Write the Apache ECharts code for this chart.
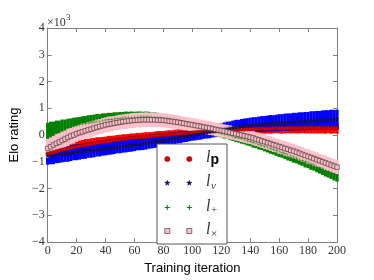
<!DOCTYPE html>
<html><head><meta charset="utf-8">
<script src="https://cdn.jsdelivr.net/npm/echarts@6/dist/echarts.min.js"></script>
<style>html,body{margin:0;padding:0;background:#fff}#c{width:374px;height:280px}</style>
</head><body><div id="c"></div>
<script>
// ---- data (Elo rating in units of 10^3) ----
const iterations = [
0,2,4,6,8,10,12,14,16,18,
20,22,24,26,28,30,32,34,36,38,
40,42,44,46,48,50,52,54,56,58,
60,62,64,66,68,70,72,74,76,78,
80,82,84,86,88,90,92,94,96,98,
100,102,104,106,108,110,112,114,116,118,
120,122,124,126,128,130,132,134,136,138,
140,142,144,146,148,150,152,154,156,158,
160,162,164,166,168,170,172,174,176,178,
180,182,184,186,188,190,192,194,196,198,
200];
const xTickValues = [0,20,40,60,80,100,120,140,160,180,200];
const yTickValues = [-4,-3,-2,-1,0,1,2,3,4];

const lpVals = [
-0.70,-0.67,-0.64,-0.61,-0.58,-0.55,-0.53,-0.50,-0.48,-0.45,
-0.43,-0.41,-0.39,-0.37,-0.35,-0.33,-0.31,-0.29,-0.27,-0.26,
-0.24,-0.22,-0.21,-0.19,-0.18,-0.16,-0.15,-0.14,-0.12,-0.11,
-0.10,-0.09,-0.08,-0.07,-0.06,-0.05,-0.04,-0.03,-0.02,-0.01,
0.00,0.01,0.02,0.03,0.04,0.05,0.06,0.07,0.07,0.08,
0.09,0.10,0.11,0.11,0.12,0.13,0.14,0.15,0.15,0.16,
0.17,0.18,0.18,0.19,0.19,0.20,0.20,0.21,0.21,0.22,
0.22,0.22,0.23,0.23,0.24,0.24,0.24,0.24,0.25,0.25,
0.25,0.25,0.25,0.26,0.26,0.26,0.26,0.26,0.26,0.26,
0.26,0.27,0.26,0.26,0.27,0.26,0.26,0.27,0.26,0.26,
0.26];
const lpErr = [
0.32,0.31,0.33,0.30,0.29,0.28,0.27,0.28,0.26,0.25,
0.24,0.23,0.24,0.22,0.21,0.21,0.20,0.21,0.19,0.19,
0.18,0.19,0.18,0.17,0.18,0.17,0.18,0.17,0.16,0.17,
0.16,0.17,0.16,0.16,0.17,0.16,0.15,0.16,0.17,0.16,
0.15,0.16,0.16,0.15,0.16,0.16,0.15,0.16,0.15,0.16,
0.16,0.15,0.16,0.16,0.17,0.16,0.17,0.16,0.17,0.16,
0.17,0.16,0.17,0.17,0.18,0.17,0.18,0.17,0.18,0.18,
0.17,0.18,0.19,0.18,0.18,0.19,0.18,0.19,0.19,0.18,
0.19,0.20,0.19,0.19,0.20,0.19,0.20,0.20,0.19,0.20,
0.20,0.21,0.20,0.20,0.21,0.20,0.21,0.20,0.21,0.20,
0.21];

const lvVals = [
-0.78,-0.77,-0.75,-0.74,-0.72,-0.71,-0.70,-0.68,-0.67,-0.65,
-0.64,-0.63,-0.61,-0.60,-0.58,-0.57,-0.56,-0.54,-0.53,-0.51,
-0.50,-0.49,-0.47,-0.46,-0.44,-0.43,-0.42,-0.40,-0.39,-0.37,
-0.36,-0.34,-0.33,-0.31,-0.30,-0.28,-0.26,-0.25,-0.23,-0.22,
-0.20,-0.18,-0.16,-0.14,-0.12,-0.10,-0.08,-0.06,-0.04,-0.02,
0.00,0.02,0.04,0.06,0.08,0.10,0.12,0.14,0.16,0.18,
0.20,0.22,0.24,0.26,0.28,0.30,0.31,0.33,0.34,0.36,
0.37,0.38,0.39,0.40,0.41,0.42,0.43,0.44,0.44,0.45,
0.46,0.47,0.48,0.48,0.49,0.50,0.51,0.51,0.52,0.52,
0.53,0.54,0.55,0.55,0.56,0.57,0.57,0.58,0.59,0.59,
0.60];
const lvErr = [
0.33,0.32,0.34,0.31,0.32,0.31,0.30,0.32,0.30,0.29,
0.30,0.29,0.28,0.29,0.27,0.28,0.27,0.26,0.27,0.26,
0.26,0.25,0.26,0.25,0.24,0.25,0.24,0.25,0.24,0.25,
0.24,0.23,0.24,0.25,0.24,0.23,0.24,0.23,0.24,0.23,
0.22,0.23,0.22,0.23,0.22,0.21,0.22,0.21,0.22,0.21,
0.21,0.22,0.22,0.23,0.22,0.23,0.24,0.23,0.24,0.25,
0.24,0.25,0.26,0.25,0.26,0.27,0.26,0.27,0.28,0.27,
0.28,0.29,0.28,0.29,0.30,0.29,0.30,0.31,0.30,0.31,
0.32,0.31,0.32,0.33,0.32,0.33,0.32,0.34,0.33,0.34,
0.33,0.35,0.34,0.35,0.34,0.35,0.36,0.35,0.36,0.35,
0.35];

const lplusVals = [
0.12,0.15,0.17,0.20,0.22,0.25,0.27,0.29,0.32,0.34,
0.36,0.38,0.40,0.43,0.45,0.47,0.49,0.51,0.52,0.54,
0.56,0.57,0.59,0.60,0.62,0.63,0.64,0.65,0.66,0.66,
0.67,0.67,0.68,0.68,0.68,0.68,0.67,0.66,0.65,0.64,
0.62,0.60,0.58,0.56,0.54,0.52,0.49,0.46,0.44,0.41,
0.38,0.35,0.32,0.28,0.25,0.22,0.19,0.16,0.13,0.10,
0.07,0.04,0.01,-0.02,-0.05,-0.08,-0.11,-0.14,-0.18,-0.21,
-0.24,-0.28,-0.31,-0.35,-0.38,-0.42,-0.46,-0.50,-0.54,-0.58,
-0.62,-0.66,-0.70,-0.74,-0.78,-0.82,-0.86,-0.90,-0.94,-0.99,
-1.03,-1.08,-1.12,-1.17,-1.22,-1.27,-1.32,-1.37,-1.42,-1.47,
-1.52];
const lplusErr = [
0.34,0.35,0.33,0.34,0.32,0.33,0.31,0.32,0.30,0.31,
0.30,0.29,0.30,0.28,0.29,0.28,0.27,0.28,0.26,0.27,
0.25,0.26,0.24,0.25,0.23,0.23,0.22,0.23,0.21,0.22,
0.20,0.21,0.20,0.19,0.20,0.19,0.18,0.19,0.18,0.17,
0.17,0.18,0.17,0.16,0.17,0.16,0.17,0.16,0.15,0.16,
0.15,0.16,0.15,0.16,0.15,0.16,0.15,0.16,0.16,0.17,
0.16,0.17,0.16,0.17,0.17,0.18,0.17,0.18,0.17,0.18,
0.18,0.19,0.18,0.19,0.18,0.19,0.19,0.20,0.19,0.20,
0.20,0.19,0.20,0.21,0.20,0.21,0.20,0.21,0.21,0.22,
0.21,0.22,0.21,0.22,0.22,0.22,0.23,0.22,0.22,0.23,
0.22];

const ltimesVals = [
-0.50,-0.44,-0.37,-0.31,-0.26,-0.20,-0.15,-0.09,-0.04,0.00,
0.05,0.09,0.12,0.16,0.19,0.22,0.26,0.29,0.32,0.35,
0.38,0.40,0.42,0.44,0.46,0.48,0.50,0.51,0.53,0.54,
0.55,0.56,0.56,0.57,0.57,0.57,0.57,0.57,0.56,0.56,
0.55,0.54,0.52,0.51,0.49,0.48,0.46,0.44,0.42,0.40,
0.38,0.36,0.34,0.32,0.30,0.28,0.26,0.24,0.21,0.19,
0.17,0.15,0.12,0.10,0.07,0.05,0.02,0.00,-0.03,-0.05,
-0.08,-0.11,-0.15,-0.18,-0.22,-0.25,-0.29,-0.32,-0.36,-0.39,
-0.43,-0.46,-0.50,-0.53,-0.57,-0.60,-0.64,-0.68,-0.72,-0.76,
-0.80,-0.84,-0.88,-0.92,-0.96,-1.00,-1.04,-1.08,-1.12,-1.16,
-1.20];
const ltimesErr = [
0.36,0.35,0.34,0.35,0.33,0.33,0.32,0.33,0.31,0.32,
0.31,0.30,0.31,0.29,0.30,0.29,0.28,0.29,0.28,0.29,
0.28,0.29,0.28,0.27,0.28,0.28,0.27,0.28,0.27,0.28,
0.28,0.27,0.28,0.27,0.28,0.27,0.28,0.27,0.26,0.27,
0.26,0.27,0.26,0.27,0.26,0.26,0.25,0.26,0.25,0.26,
0.25,0.26,0.25,0.26,0.25,0.25,0.26,0.25,0.26,0.25,
0.26,0.25,0.26,0.26,0.25,0.26,0.25,0.26,0.26,0.27,
0.26,0.27,0.26,0.27,0.26,0.27,0.26,0.27,0.27,0.26,
0.27,0.26,0.27,0.27,0.26,0.27,0.26,0.27,0.27,0.26,
0.27,0.26,0.27,0.27,0.26,0.26,0.27,0.26,0.27,0.26,
0.26];

// ---- helpers ----
function barData(vals, errs){ return iterations.map((x,i)=>[x, vals[i]-errs[i], vals[i]+errs[i]]); }
function ptData(vals){ return iterations.map((x,i)=>[x, vals[i]]); }
function errSeries(name, vals, errs, color){
  return {type:'custom', name, silent:true, data:barData(vals,errs), encode:{x:0,y:[1,2]},
    renderItem:(p,api)=>{
      const a=api.coord([api.value(0),api.value(2)]);
      const b=api.coord([api.value(0),api.value(1)]);
      return {type:'rect', shape:{x:a[0]-1.6,y:a[1],width:3.2,height:b[1]-a[1]}, style:{fill:color}};
    }};
}
const STAR='path://M5,0 L6.2,3.6 L10,3.8 L7,6.1 L8.1,9.8 L5,7.6 L1.9,9.8 L3,6.1 L0,3.8 L3.8,3.6 Z';
const PLUS='path://M0,4.4 L10,4.4 L10,5.6 L0,5.6 Z M4.4,0 L5.6,0 L5.6,10 L4.4,10 Z';
function ptSeries(name, vals, symbol, size, color, border){
  return {type:'scatter', name, silent:true, data:ptData(vals), symbol, symbolSize:size,
    itemStyle:{color, borderColor:border||color, borderWidth:border?0.7:0, opacity:1}};
}

const axisGray='#808080';
const tickFont={fontFamily:'"Liberation Serif", serif', fontSize:12, color:'#333'};
const fmt=v=>String(v).replace('-','\u2212');

function starPts(cx,cy,R,r){const pts=[];for(let k=0;k<10;k++){const rad=(k%2?r:R);const ang=-Math.PI/2+k*Math.PI/5;pts.push([cx+rad*Math.cos(ang),cy+rad*Math.sin(ang)]);}return pts;}

const legendRows=[159,183,207.5,231];
const legendX=[167.3,189.3];
const graphic=[
  {type:'rect', z:100, shape:{x:157,y:144,width:70,height:100}, style:{fill:'#fff', stroke:'#555', lineWidth:1}},
  {type:'text', z:100, style:{text:'\u00d710', x:47, y:23, font:'12px "Liberation Serif"', fill:'#333', verticalAlign:'middle'}},
  {type:'text', z:100, style:{text:'3', x:66, y:18, font:'9px "Liberation Serif"', fill:'#333', verticalAlign:'middle'}}
];
legendX.forEach(x=>{
  graphic.push({type:'circle', z:101, shape:{cx:x,cy:legendRows[0],r:2.6}, style:{fill:'#e00000', stroke:'#700', lineWidth:0.5}});
  graphic.push({type:'polygon', z:101, shape:{points:starPts(x,legendRows[1],3.3,1.4)}, style:{fill:'#1a1a5e'}});
  graphic.push({type:'line', z:101, shape:{x1:x-2.5,y1:legendRows[2],x2:x+2.5,y2:legendRows[2]}, style:{stroke:'#008000', lineWidth:1}});
  graphic.push({type:'line', z:101, shape:{x1:x,y1:legendRows[2]-2.5,x2:x,y2:legendRows[2]+2.5}, style:{stroke:'#008000', lineWidth:1}});
  graphic.push({type:'rect', z:101, shape:{x:x-2.5,y:legendRows[3]-2.5,width:5,height:5}, style:{fill:'#ffc0cb', stroke:'#555', lineWidth:0.8}});
});
const lFont='italic 16px "Liberation Serif"';
const subFont='italic 11px "Liberation Serif"';
const lx=206;
graphic.push({type:'text', z:101, style:{text:'l', x:lx, y:legendRows[0]-1, font:lFont, fill:'#333', verticalAlign:'middle'}});
graphic.push({type:'text', z:101, style:{text:'p', x:lx+4.5, y:legendRows[0]+1, font:'bold 14px "Liberation Sans"', fill:'#000', verticalAlign:'middle'}});
graphic.push({type:'text', z:101, style:{text:'l', x:lx, y:legendRows[1]-1, font:lFont, fill:'#333', verticalAlign:'middle'}});
graphic.push({type:'text', z:101, style:{text:'v', x:lx+5, y:legendRows[1]+3, font:subFont, fill:'#333', verticalAlign:'middle'}});
graphic.push({type:'text', z:101, style:{text:'l', x:lx, y:legendRows[2]-1, font:lFont, fill:'#333', verticalAlign:'middle'}});
graphic.push({type:'text', z:101, style:{text:'+', x:lx+5, y:legendRows[2]+3, font:'11px "Liberation Serif"', fill:'#333', verticalAlign:'middle'}});
graphic.push({type:'text', z:101, style:{text:'l', x:lx, y:legendRows[3]-1, font:lFont, fill:'#333', verticalAlign:'middle'}});
graphic.push({type:'text', z:101, style:{text:'\u00d7', x:lx+5, y:legendRows[3]+3, font:'11px "Liberation Serif"', fill:'#333', verticalAlign:'middle'}});

const xMin=xTickValues[0], xMax=xTickValues[xTickValues.length-1], xInt=xTickValues[1]-xTickValues[0];
const yMin=yTickValues[0], yMax=yTickValues[yTickValues.length-1], yInt=yTickValues[1]-yTickValues[0];
const common={axisLine:{show:true,onZero:false,lineStyle:{color:axisGray,width:1}}, axisTick:{show:true,inside:true,length:4,lineStyle:{color:axisGray}}, splitLine:{show:false}};

const option={
  animation:false,
  backgroundColor:'#fff',
  grid:{left:46,right:37,top:28,bottom:28,containLabel:false},
  xAxis:[
    Object.assign({type:'value',min:xMin,max:xMax,interval:xInt,position:'bottom',
      axisLabel:Object.assign({margin:3},tickFont),
      name:'Training iteration', nameLocation:'middle', nameGap:17,
      nameTextStyle:{fontFamily:'"Liberation Sans", Arial, sans-serif', fontSize:13, color:'#000'}},common),
    Object.assign({type:'value',min:xMin,max:xMax,interval:xInt,position:'top',axisLabel:{show:false}},common)
  ],
  yAxis:[
    Object.assign({type:'value',min:yMin,max:yMax,interval:yInt,position:'left',
      axisLabel:Object.assign({margin:3,formatter:fmt},tickFont),
      name:'Elo rating', nameLocation:'middle', nameGap:21,
      nameTextStyle:{fontFamily:'"Liberation Sans", Arial, sans-serif', fontSize:13, color:'#000'}},common),
    Object.assign({type:'value',min:yMin,max:yMax,interval:yInt,position:'right',axisLabel:{show:false}},common)
  ],
  graphic,
  series:[
    errSeries('lp_err', lpVals, lpErr, '#ff0000'),
    errSeries('lv_err', lvVals, lvErr, '#0000ff'),
    ptSeries('lp', lpVals, 'circle', 3.6, '#e00000', '#900000'),
    ptSeries('lv', lvVals, STAR, 5, '#14144a'),
    errSeries('lplus_err', lplusVals, lplusErr, '#008000'),
    errSeries('ltimes_err', ltimesVals, ltimesErr, '#ffc0cb'),
    ptSeries('lplus', lplusVals, PLUS, 3.5, '#008000'),
    ptSeries('ltimes', ltimesVals, 'rect', 4.5, '#ffc0cb', '#4a3a3a')
  ]
};
const chart=echarts.init(document.getElementById('c'),null,{renderer:'canvas'});
chart.setOption(option);
</script>
</body></html>
